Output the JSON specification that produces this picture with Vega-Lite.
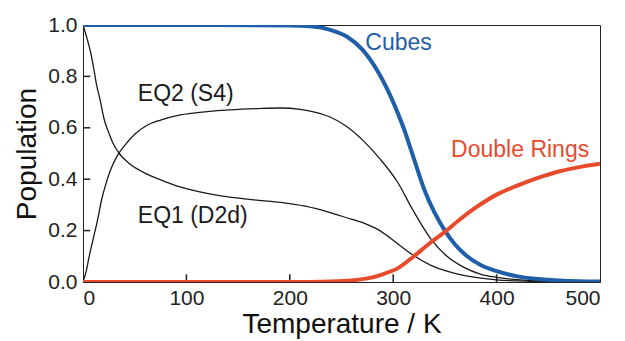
{
  "$schema": "https://vega.github.io/schema/vega-lite/v6.json",
  "width": 517,
  "height": 257,
  "autosize": {"type": "none"},
  "padding": {"left": 83, "top": 25, "right": 25, "bottom": 59},
  "background": "white",
  "config": {
    "font": "Liberation Sans",
    "view": {"stroke": "#222", "strokeWidth": 1},
    "axis": {
      "grid": false,
      "domainColor": "#222",
      "ticks": false,
      "labelFontSize": 21,
      "labelColor": "#222",
      "titleFontSize": 28,
      "titleFontWeight": "normal",
      "titleColor": "#111",
      "labelFont": "Liberation Sans",
      "titleFont": "Liberation Sans"
    }
  },
  "datasets": {
    "curves": [
      {"s":"Cubes","T":0,"P":1.0},{"s":"Cubes","T":100,"P":1.0},{"s":"Cubes","T":200,"P":0.998},{"s":"Cubes","T":220,"P":0.995},{"s":"Cubes","T":240,"P":0.98},{"s":"Cubes","T":255,"P":0.955},{"s":"Cubes","T":270,"P":0.905},{"s":"Cubes","T":285,"P":0.82},{"s":"Cubes","T":300,"P":0.70},{"s":"Cubes","T":310,"P":0.60},{"s":"Cubes","T":320,"P":0.48},{"s":"Cubes","T":330,"P":0.36},{"s":"Cubes","T":340,"P":0.27},{"s":"Cubes","T":350,"P":0.20},{"s":"Cubes","T":360,"P":0.145},{"s":"Cubes","T":370,"P":0.105},{"s":"Cubes","T":385,"P":0.065},{"s":"Cubes","T":400,"P":0.042},{"s":"Cubes","T":420,"P":0.022},{"s":"Cubes","T":440,"P":0.012},{"s":"Cubes","T":460,"P":0.006},{"s":"Cubes","T":480,"P":0.003},{"s":"Cubes","T":500,"P":0.002},
      {"s":"DR","T":0,"P":0},{"s":"DR","T":200,"P":0},{"s":"DR","T":240,"P":0.002},{"s":"DR","T":260,"P":0.006},{"s":"DR","T":275,"P":0.014},{"s":"DR","T":290,"P":0.03},{"s":"DR","T":305,"P":0.055},{"s":"DR","T":320,"P":0.10},{"s":"DR","T":335,"P":0.15},{"s":"DR","T":350,"P":0.195},{"s":"DR","T":365,"P":0.245},{"s":"DR","T":380,"P":0.29},{"s":"DR","T":400,"P":0.34},{"s":"DR","T":420,"P":0.375},{"s":"DR","T":440,"P":0.405},{"s":"DR","T":460,"P":0.43},{"s":"DR","T":480,"P":0.447},{"s":"DR","T":500,"P":0.46},
      {"s":"EQ2","T":0,"P":0},{"s":"EQ2","T":3,"P":0.04},{"s":"EQ2","T":6,"P":0.1},{"s":"EQ2","T":10,"P":0.17},{"s":"EQ2","T":14,"P":0.24},{"s":"EQ2","T":18,"P":0.32},{"s":"EQ2","T":22,"P":0.38},{"s":"EQ2","T":27,"P":0.44},{"s":"EQ2","T":33,"P":0.49},{"s":"EQ2","T":40,"P":0.53},{"s":"EQ2","T":50,"P":0.575},{"s":"EQ2","T":62,"P":0.61},{"s":"EQ2","T":75,"P":0.63},{"s":"EQ2","T":94,"P":0.65},{"s":"EQ2","T":120,"P":0.663},{"s":"EQ2","T":142,"P":0.67},{"s":"EQ2","T":170,"P":0.675},{"s":"EQ2","T":191,"P":0.677},{"s":"EQ2","T":210,"P":0.672},{"s":"EQ2","T":225,"P":0.66},{"s":"EQ2","T":240,"P":0.64},{"s":"EQ2","T":255,"P":0.605},{"s":"EQ2","T":271,"P":0.55},{"s":"EQ2","T":287,"P":0.48},{"s":"EQ2","T":304,"P":0.39},{"s":"EQ2","T":319,"P":0.28},{"s":"EQ2","T":336,"P":0.17},{"s":"EQ2","T":352,"P":0.10},{"s":"EQ2","T":367,"P":0.06},{"s":"EQ2","T":385,"P":0.03},{"s":"EQ2","T":400,"P":0.018},{"s":"EQ2","T":430,"P":0.006},{"s":"EQ2","T":460,"P":0.002},{"s":"EQ2","T":500,"P":0},
      {"s":"EQ1","T":0,"P":1.0},{"s":"EQ1","T":3,"P":0.96},{"s":"EQ1","T":7,"P":0.90},{"s":"EQ1","T":10,"P":0.84},{"s":"EQ1","T":13,"P":0.77},{"s":"EQ1","T":17,"P":0.70},{"s":"EQ1","T":20,"P":0.64},{"s":"EQ1","T":25,"P":0.58},{"s":"EQ1","T":29,"P":0.54},{"s":"EQ1","T":35,"P":0.50},{"s":"EQ1","T":45,"P":0.46},{"s":"EQ1","T":62,"P":0.42},{"s":"EQ1","T":80,"P":0.39},{"s":"EQ1","T":94,"P":0.37},{"s":"EQ1","T":120,"P":0.345},{"s":"EQ1","T":142,"P":0.33},{"s":"EQ1","T":170,"P":0.318},{"s":"EQ1","T":191,"P":0.31},{"s":"EQ1","T":215,"P":0.295},{"s":"EQ1","T":239,"P":0.27},{"s":"EQ1","T":255,"P":0.25},{"s":"EQ1","T":271,"P":0.23},{"s":"EQ1","T":287,"P":0.20},{"s":"EQ1","T":304,"P":0.15},{"s":"EQ1","T":319,"P":0.105},{"s":"EQ1","T":336,"P":0.066},{"s":"EQ1","T":352,"P":0.042},{"s":"EQ1","T":367,"P":0.027},{"s":"EQ1","T":385,"P":0.015},{"s":"EQ1","T":400,"P":0.008},{"s":"EQ1","T":430,"P":0.003},{"s":"EQ1","T":500,"P":0}
    ],
    "xticks": [{"T":100},{"T":200},{"T":300},{"T":400}],
    "yticks": [{"P":0.2},{"P":0.4},{"P":0.6},{"P":0.8}],
    "labels": [
      {"label":"Cubes","T":273,"P":0.93,"c":"Cubes"},
      {"label":"Double Rings","T":356,"P":0.515,"c":"DR"},
      {"label":"EQ2 (S4)","T":53,"P":0.73,"c":"EQ"},
      {"label":"EQ1 (D2d)","T":53,"P":0.255,"c":"EQ"}
    ]
  },
  "layer": [
    {
      "data": {"name": "xticks"},
      "mark": {"type": "rule", "strokeWidth": 1.5, "color": "#222"},
      "encoding": {
        "x": {"field": "T", "type": "quantitative", "scale": {"domain": [0, 500], "nice": false}, "axis": {"values": [0,100,200,300,400,500], "title": "Temperature / K", "labelPadding": 5, "titlePadding": 2}},
        "y": {"datum": 0, "type": "quantitative", "scale": {"domain": [0, 1], "nice": false}, "axis": {"values": [0,0.2,0.4,0.6,0.8,1.0], "format": ".1f", "title": "Population", "labelPadding": 6, "titlePadding": 6}},
        "y2": {"datum": 0.03}
      }
    },
    {
      "data": {"name": "yticks"},
      "mark": {"type": "rule", "strokeWidth": 1.5, "color": "#222"},
      "encoding": {
        "x": {"datum": 0, "type": "quantitative"},
        "x2": {"datum": 7},
        "y": {"field": "P", "type": "quantitative"}
      }
    },
    {
      "data": {"name": "curves"},
      "transform": [{"filter": "datum.s === 'EQ1' || datum.s === 'EQ2'"}],
      "mark": {"type": "line", "interpolate": "monotone", "strokeWidth": 1.3, "color": "#1a1a1a", "clip": true},
      "encoding": {
        "x": {"field": "T", "type": "quantitative"},
        "y": {"field": "P", "type": "quantitative"},
        "detail": {"field": "s"}
      }
    },
    {
      "data": {"name": "curves"},
      "transform": [{"filter": "datum.s === 'Cubes'"}],
      "mark": {"type": "line", "interpolate": "monotone", "strokeWidth": 4, "color": "#1f5ea8", "clip": true},
      "encoding": {
        "x": {"field": "T", "type": "quantitative"},
        "y": {"field": "P", "type": "quantitative"}
      }
    },
    {
      "data": {"name": "curves"},
      "transform": [{"filter": "datum.s === 'DR'"}],
      "mark": {"type": "line", "interpolate": "monotone", "strokeWidth": 4, "color": "#e84a2c", "clip": true},
      "encoding": {
        "x": {"field": "T", "type": "quantitative"},
        "y": {"field": "P", "type": "quantitative"}
      }
    },
    {
      "data": {"name": "labels"},
      "mark": {"type": "text", "align": "left", "baseline": "middle", "fontSize": 23, "font": "Liberation Sans"},
      "encoding": {
        "x": {"field": "T", "type": "quantitative"},
        "y": {"field": "P", "type": "quantitative"},
        "text": {"field": "label"},
        "color": {"field": "c", "type": "nominal", "scale": {"domain": ["Cubes", "DR", "EQ"], "range": ["#1f5ea8", "#e84a2c", "#1a1a1a"]}, "legend": null}
      }
    }
  ]
}
